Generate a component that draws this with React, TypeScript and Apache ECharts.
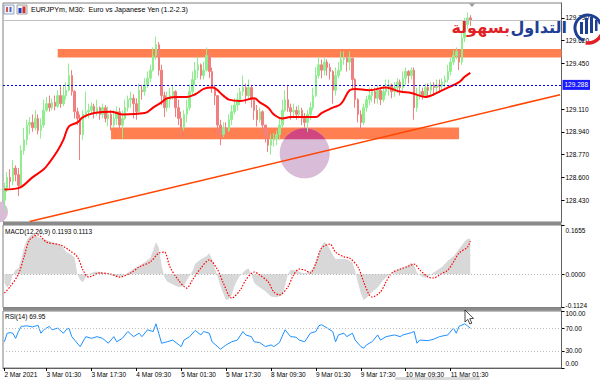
import { useEffect, useRef } from "react";
import * as echarts from "echarts";

const FONT = "'Liberation Sans', Arial, sans-serif";

const categoryCount = 199;
const firstOpen = 128.43;
const closes = [
  128.52, 128.60, 128.57, 128.67, 128.62, 128.54, 128.80, 128.88, 128.99, 129.01,
  128.97, 129.04, 128.95, 128.99, 129.10, 129.15, 129.12, 129.16, 129.13, 129.21,
  129.15, 129.21, 129.25, 129.36, 129.24, 129.09, 129.04, 128.92, 129.07, 129.09,
  129.10, 129.13, 129.09, 129.12, 129.07, 129.12, 129.04, 129.07, 128.99, 129.04,
  129.09, 128.99, 129.04, 129.12, 129.18, 129.19, 129.15, 129.09, 129.25, 129.24,
  129.29, 129.34, 129.40, 129.51, 129.59, 129.40, 129.21, 129.12, 129.18, 129.21,
  129.24, 129.12, 129.04, 128.97, 129.07, 129.12, 129.24, 129.33, 129.40, 129.44,
  129.36, 129.40, 129.51, 129.39, 129.27, 129.21, 128.99, 128.92, 128.97, 128.95,
  129.03, 129.09, 129.14, 129.18, 129.24, 129.27, 129.21, 129.27, 129.18, 129.10,
  129.03, 129.09, 128.99, 128.92, 128.84, 128.88, 128.89, 128.92, 128.99, 129.10,
  129.18, 129.12, 129.09, 129.10, 129.07, 129.10, 129.04, 129.01, 129.07, 129.12,
  129.21, 129.36, 129.44, 129.40, 129.46, 129.42, 129.39, 129.25, 129.36, 129.40,
  129.48, 129.49, 129.46, 129.49, 129.33, 129.18, 129.07, 129.01, 129.12, 129.18,
  129.21, 129.24, 129.19, 129.25, 129.18, 129.24, 129.27, 129.29, 129.24, 129.27,
  129.31, 129.27, 129.34, 129.39, 129.36, 129.40, 129.12, 129.21, 129.24, 129.21,
  129.27, 129.25, 129.29, 129.27, 129.29, 129.28, 129.31, 129.33, 129.39, 129.46,
  129.51, 129.54, 129.46, 129.64, 129.74, 129.79, 129.77,
];
const highs = [
  128.56, 128.64, 128.66, 128.73, 128.69, 128.67, 128.84, 128.97, 129.03, 129.05,
  129.07, 129.10, 129.07, 129.04, 129.18, 129.20, 129.21, 129.19, 129.21, 129.25,
  129.29, 129.28, 129.31, 129.45, 129.40, 129.25, 129.12, 129.07, 129.10, 129.24,
  129.15, 129.16, 129.15, 129.18, 129.13, 129.15, 129.14, 129.13, 129.10, 129.10,
  129.13, 129.12, 129.10, 129.18, 129.21, 129.24, 129.22, 129.19, 129.30, 129.29,
  129.34, 129.39, 129.44, 129.57, 129.65, 129.61, 129.44, 129.24, 129.24, 129.27,
  129.29, 129.25, 129.18, 129.09, 129.10, 129.18, 129.29, 129.39, 129.46, 129.50,
  129.45, 129.46, 129.57, 129.54, 129.42, 129.29, 129.21, 129.03, 129.01, 129.01,
  129.07, 129.14, 129.19, 129.23, 129.27, 129.36, 129.30, 129.33, 129.29, 129.18,
  129.14, 129.12, 129.10, 128.99, 128.94, 128.92, 128.93, 128.95, 129.04, 129.18,
  129.25, 129.29, 129.15, 129.15, 129.13, 129.14, 129.12, 129.08, 129.10, 129.16,
  129.27, 129.42, 129.50, 129.48, 129.49, 129.48, 129.45, 129.40, 129.42, 129.46,
  129.54, 129.54, 129.51, 129.54, 129.49, 129.34, 129.19, 129.10, 129.15, 129.21,
  129.27, 129.27, 129.27, 129.29, 129.27, 129.29, 129.33, 129.33, 129.30, 129.31,
  129.34, 129.33, 129.39, 129.42, 129.40, 129.42, 129.42, 129.27, 129.29, 129.27,
  129.30, 129.30, 129.31, 129.31, 129.33, 129.33, 129.34, 129.36, 129.44, 129.49,
  129.55, 129.57, 129.55, 129.69, 129.79, 129.83, 129.81,
];
const lows = [
  128.34, 128.49, 128.52, 128.54, 128.57, 128.46, 128.54, 128.77, 128.84, 128.92,
  128.94, 128.95, 128.92, 128.89, 128.97, 129.09, 129.09, 129.10, 129.10, 129.12,
  129.12, 129.13, 129.18, 129.24, 129.21, 129.04, 128.99, 128.73, 128.88, 129.04,
  129.04, 129.07, 129.04, 129.06, 129.03, 129.04, 129.01, 128.98, 128.95, 128.97,
  128.99, 128.95, 128.89, 129.03, 129.09, 129.12, 129.04, 129.03, 129.09, 129.18,
  129.21, 129.27, 129.31, 129.39, 129.48, 129.36, 129.14, 129.05, 129.09, 129.12,
  129.18, 129.05, 128.99, 128.89, 128.95, 129.01, 129.10, 129.21, 129.29, 129.34,
  129.33, 129.33, 129.39, 129.34, 129.23, 129.14, 128.92, 128.84, 128.90, 128.90,
  128.94, 128.99, 129.07, 129.10, 129.14, 129.21, 129.15, 129.18, 129.12, 129.03,
  128.98, 129.01, 128.94, 128.86, 128.79, 128.77, 128.83, 128.84, 128.88, 128.97,
  129.09, 129.09, 129.03, 129.04, 129.03, 129.04, 128.99, 128.97, 128.94, 129.03,
  129.10, 129.20, 129.34, 129.34, 129.36, 129.36, 129.33, 129.15, 129.21, 129.34,
  129.39, 129.44, 129.39, 129.40, 129.25, 129.12, 129.01, 128.95, 128.99, 129.09,
  129.14, 129.16, 129.15, 129.15, 129.14, 129.16, 129.21, 129.21, 129.19, 129.20,
  129.23, 129.21, 129.24, 129.29, 129.30, 129.33, 129.03, 129.09, 129.18, 129.18,
  129.19, 129.20, 129.21, 129.21, 129.23, 129.23, 129.25, 129.27, 129.31, 129.36,
  129.44, 129.48, 129.40, 129.44, 129.61, 129.71, 129.73,
];
const maPoints = [
  [0, 128.51], [5, 128.52], [10, 128.6], [14, 128.66], [16, 128.71], [19, 128.8], [21, 128.88],
  [23, 128.98], [26, 129.01], [28, 129.05], [32, 129.08], [38, 129.09], [42, 129.07], [50, 129.08],
  [53, 129.12], [56, 129.16], [58, 129.19], [62, 129.2], [65, 129.2], [68, 129.22], [71, 129.26],
  [74, 129.27], [78, 129.21], [80, 129.18], [84, 129.17], [89, 129.19], [91, 129.16], [94, 129.12],
  [96, 129.07], [99, 129.04], [102, 129.05], [111, 129.05], [113, 129.08], [117, 129.12],
  [120, 129.15], [123, 129.25], [125, 129.26], [130, 129.25], [136, 129.27], [138, 129.26],
  [141, 129.24], [145, 129.23], [150, 129.2], [152, 129.21], [155, 129.24], [158, 129.27],
  [162, 129.31], [164, 129.35], [166, 129.38],
];
const macdHist = [
  [0, -0.03], [1, -0.045], [2, -0.035], [3, 0], [4, 0.015], [5, 0.02], [6, 0.05], [7, 0.09],
  [8, 0.115], [9, 0.128], [10, 0.135], [11, 0.132], [12, 0.125], [14, 0.118], [16, 0.112],
  [18, 0.105], [20, 0.1], [22, 0.075], [24, 0.065], [25, 0.055], [26, 0], [27, -0.02],
  [28, -0.027], [29, -0.01], [30, 0], [32, 0.008], [34, 0.008], [36, 0.002], [38, -0.005],
  [40, -0.008], [42, -0.006], [44, 0.005], [46, 0.018], [48, 0.028], [50, 0.04], [52, 0.055],
  [53, 0.08], [54, 0.108], [55, 0.09], [56, 0.03], [57, -0.01], [58, -0.025], [60, -0.035],
  [62, -0.043], [64, -0.04], [65, -0.02], [66, -0.005], [67, 0.01], [68, 0.035], [70, 0.05],
  [72, 0.06], [73, 0.07], [74, 0.05], [75, 0.02], [76, -0.01], [77, -0.04], [78, -0.065],
  [79, -0.087], [80, -0.085], [81, -0.07], [82, -0.04], [83, -0.02], [84, -0.005], [86, 0.015],
  [87, 0.02], [88, 0], [89, -0.03], [91, -0.045], [93, -0.058], [95, -0.075], [97, -0.078],
  [99, -0.07], [100, -0.04], [101, 0], [102, 0.015], [104, 0.012], [106, 0.005], [108, 0.003],
  [110, 0.02], [112, 0.07], [113, 0.095], [114, 0.108], [115, 0.1], [116, 0.085], [117, 0.065],
  [118, 0.05], [120, 0.052], [122, 0.05], [124, 0.04], [125, 0.01], [126, -0.03], [127, -0.065],
  [128, -0.087], [129, -0.08], [131, -0.06], [133, -0.045], [135, -0.02], [137, -0.003],
  [139, 0.01], [141, 0.018], [143, 0.025], [145, 0.038], [146, 0.03], [147, 0.005], [149, -0.01],
  [150, -0.012], [152, 0], [154, 0.012], [156, 0.025], [158, 0.045], [160, 0.06], [162, 0.085],
  [164, 0.11], [165, 0.118], [166, 0.1193],
];
const macdSignal = [
  [0, -0.064], [2, -0.043], [5, 0], [7, 0.058], [9, 0.115], [12, 0.132], [15, 0.108], [20, 0.098],
  [23, 0.081], [26, 0.058], [28, 0.014], [30, -0.01], [34, 0.004], [38, 0], [41, -0.01], [45, 0.004],
  [48, 0.024], [52, 0.041], [55, 0.071], [57, 0.074], [59, 0.024], [62, -0.02], [65, -0.047],
  [67, -0.02], [70, 0.02], [73, 0.048], [76, 0.014], [78, -0.03], [81, -0.081], [84, -0.054],
  [86, -0.02], [89, 0.007], [91, -0.003], [94, -0.026], [96, -0.06], [98, -0.07], [101, -0.043],
  [103, -0.003], [105, 0.017], [107, 0.014], [109, 0.004], [111, 0.037], [113, 0.088], [116, 0.101],
  [118, 0.074], [121, 0.058], [123, 0.054], [126, 0.024], [128, -0.026], [130, -0.07], [131, -0.077],
  [134, -0.06], [136, -0.026], [138, 0.004], [141, 0.017], [144, 0.027], [146, 0.034], [148, 0.014],
  [151, -0.01], [153, -0.013], [155, -0.003], [158, 0.014], [160, 0.041], [162, 0.071], [165, 0.091],
  [166, 0.1113],
];
const rsiPoints = [
  [0, 46], [1, 61], [2, 62], [3, 61], [4, 52], [5, 64], [6, 73], [8, 74], [10, 72], [12, 75], [13, 61],
  [14, 67], [16, 73], [17, 67], [19, 70], [21, 61], [22, 67], [23, 70], [24, 55], [27, 37.5], [29, 55],
  [31, 52], [33, 55], [35, 52], [37, 43.5], [39, 55], [40, 46], [42, 52], [44, 64], [46, 55], [48, 61],
  [49, 55], [51, 67], [53, 64], [54, 77.5], [55, 61], [56, 43.5], [58, 46], [60, 49], [63, 37.5],
  [64, 49], [66, 55], [68, 66], [70, 58], [71, 64], [73, 61], [74, 46], [77, 33], [79, 40.5], [81, 46],
  [83, 49], [85, 64], [86, 58], [88, 55], [89, 46], [91, 44.6], [93, 37.5], [95, 40.5], [96, 37.5],
  [98, 44.6], [100, 67], [102, 55], [104, 54], [105, 49], [107, 46], [109, 61], [111, 64], [112, 74],
  [113, 76], [115, 70], [117, 64], [118, 46], [119, 58], [121, 61], [122, 55], [124, 61], [125, 49],
  [127, 37.5], [128, 34.7], [129, 40.5], [131, 46], [133, 58], [134, 49], [136, 55], [139, 58],
  [141, 55], [142, 58], [145, 62], [146, 64], [147, 43.5], [148, 49], [151, 48], [153, 50.6],
  [155, 55], [158, 58], [160, 70], [161, 61], [162, 73], [164, 77.5], [165, 74], [166, 69.95],
];
const tickIndex = [0, 15, 31, 47, 63, 79, 95, 111, 127, 143, 159];
const tickText = [
  "2 Mar 2021", "3 Mar 01:30", "3 Mar 17:30", "4 Mar 09:30", "5 Mar 01:30", "5 Mar 17:30",
  "8 Mar 09:30", "9 Mar 01:30", "9 Mar 17:30", "10 Mar 09:30", "11 Mar 01:30",
];
const priceTicks = [128.43, 128.6, 128.77, 128.94, 129.11, 129.45, 129.62, 129.79];
const macdTicks = [0.1655, 0, -0.1124];
const rsiTicks = [100, 70, 30, 0];
const rsiLevels = [70, 30];
const bidPrice = 129.767;
const hLinePrice = 129.288;
const upperZone = { from: 19, to: 198, top: 129.558, bottom: 129.494 };
const lowerZone = { from: 38, to: 162, top: 128.973, bottom: 128.884 };
const trendStart = ["9", 128.27];
const trendEnd = ["198", 129.217];
const circleCenter = [107, 128.78];
const title = "EURJPYm, M30:  Euro vs Japanese Yen (1.2-2.3)";
const macdTitle = "MACD(12,26,9) 0.1193 0.1113";
const rsiTitle = "RSI(14) 69.95";

const categories = Array.from({ length: categoryCount }, (_, i) => String(i));
const candles = closes.map((c, i) => [i === 0 ? firstOpen : closes[i - 1], c, lows[i], highs[i]]);

const GL = 3;
const GR = 38.5;

function hiddenX(gridIndex: number) {
  return {
    type: "category", gridIndex, data: categories, boundaryGap: true,
    axisLine: { show: false }, axisTick: { show: false }, axisLabel: { show: false }, splitLine: { show: false },
  };
}

const lbl = (extra: any = {}) => ({ fontSize: 6.5, color: "#000", fontFamily: FONT, ...extra });

export default function App() {
  const ref = useRef<HTMLDivElement>(null);
  useEffect(() => {
    document.body.style.margin = "0";
    const chart = echarts.init(ref.current!, null, { renderer: "svg" });
    const option: any = {
      animation: false,
      textStyle: { fontFamily: FONT },
      grid: [
        { left: GL, right: GR, top: 3, height: 219, show: true, borderColor: "#808080", borderWidth: 1 },
        { left: GL, right: GR, top: 225, height: 82.5, show: true, borderColor: "#808080", borderWidth: 1 },
        { left: GL, right: GR, top: 311, height: 57, show: true, borderColor: "#808080", borderWidth: 1 },
      ],
      xAxis: [
        hiddenX(0),
        hiddenX(1),
        {
          type: "category", gridIndex: 2, data: categories, boundaryGap: true,
          axisLine: { lineStyle: { color: "#606060" } },
          axisTick: { show: true, alignWithLabel: true, length: 3, interval: (i: number) => tickIndex.includes(i), lineStyle: { color: "#000" } },
          axisLabel: {
            ...lbl(), align: "left", margin: 3,
            interval: (i: number) => tickIndex.includes(i),
            formatter: (_v: string, i: number) => tickText[tickIndex.indexOf(i)] ?? "",
          },
          splitLine: { show: false },
        },
      ],
      yAxis: [
        {
          type: "value", gridIndex: 0, position: "right", min: 128.267, max: 129.901, scale: true,
          axisLine: { show: true, lineStyle: { color: "#606060" } },
          axisTick: { show: true, length: 3, customValues: priceTicks, lineStyle: { color: "#000" } },
          axisLabel: { ...lbl(), margin: 4, customValues: priceTicks, formatter: (v: number) => v.toFixed(3) },
          splitLine: { show: false },
        },
        {
          type: "value", gridIndex: 1, position: "right", min: -0.1124, max: 0.1655,
          axisLine: { show: true, lineStyle: { color: "#606060" } },
          axisTick: { show: true, length: 3, customValues: macdTicks, lineStyle: { color: "#000" } },
          axisLabel: {
            ...lbl(), margin: 4, customValues: macdTicks,
            formatter: (v: number) => (v > 0.1 ? `{t|${v.toFixed(4)}}` : v < -0.1 ? `{b|${v.toFixed(4)}}` : `{m|${v.toFixed(4)}}`),
            rich: { t: lbl({ padding: [10, 0, 0, 0] }), b: lbl({ padding: [0, 0, 5, 0] }), m: lbl() },
          },
          splitLine: { show: false },
        },
        {
          type: "value", gridIndex: 2, position: "right", min: 0, max: 100,
          axisLine: { show: true, lineStyle: { color: "#606060" } },
          axisTick: { show: true, length: 3, customValues: rsiTicks, lineStyle: { color: "#000" } },
          axisLabel: {
            ...lbl(), margin: 4, customValues: rsiTicks,
            formatter: (v: number) => (v === 100 ? `{t|${v.toFixed(2)}}` : v === 0 ? `{b|${v.toFixed(2)}}` : `{m|${v.toFixed(2)}}`),
            rich: { t: lbl({ padding: [5, 0, 0, 0] }), b: lbl({ padding: [0, 0, 9, 0] }), m: lbl() },
          },
          splitLine: { show: false },
        },
      ],
      series: [
        {
          name: "levels", type: "line", xAxisIndex: 0, yAxisIndex: 0, data: closes, z: 0, silent: true,
          symbol: "none", lineStyle: { opacity: 0 },
          markLine: {
            silent: true, symbol: ["none", "none"],
            data: [
              { yAxis: bidPrice, lineStyle: { color: "#c0c0c0", type: "solid", width: 1 }, label: { show: false } },
              {
                yAxis: hLinePrice, lineStyle: { color: "#0000ff", type: [2, 2], width: 1 },
                label: {
                  show: true, position: "end", distance: 1, formatter: hLinePrice.toFixed(3),
                  backgroundColor: "#1a1aff", color: "#fff", fontSize: 6.5, fontFamily: FONT, padding: [2, 2, 1, 2],
                },
              },
            ],
          },
        },
        {
          name: "EURJPY", type: "candlestick", xAxisIndex: 0, yAxisIndex: 0, data: candles, z: 3,
          barWidth: 2,
          itemStyle: { color: "#90ee90", color0: "#f08080", borderColor: "#90ee90", borderColor0: "#f08080", borderWidth: 1 },
        },
        {
          name: "MA", type: "line", xAxisIndex: 0, yAxisIndex: 0, data: maPoints, z: 4, symbol: "none", smooth: 0.4,
          lineStyle: { color: "#ff0000", width: 2 },
          markLine: {
            silent: true, symbol: ["none", "none"], label: { show: false },
            lineStyle: { color: "#ff4500", width: 1.5, type: "solid" },
            data: [[{ coord: trendStart }, { coord: trendEnd }]],
          },
        },
        {
          name: "MACD", type: "line", xAxisIndex: 1, yAxisIndex: 1, data: macdHist, symbol: "none",
          lineStyle: { width: 0, color: "#d3d3d3" }, areaStyle: { color: "#d8d8d8", opacity: 1 },
          markLine: {
            silent: true, symbol: ["none", "none"], label: { show: false },
            lineStyle: { color: "#b8b8b8", type: [1, 2], width: 1 }, data: [{ yAxis: 0 }],
          },
        },
        {
          name: "Signal", type: "line", xAxisIndex: 1, yAxisIndex: 1, data: macdSignal, symbol: "none", smooth: 0.3,
          lineStyle: { color: "#ff0000", width: 1.2, type: [1.5, 1.5] },
        },
        {
          name: "RSI", type: "line", xAxisIndex: 2, yAxisIndex: 2, data: rsiPoints, symbol: "none",
          lineStyle: { color: "#1e90ff", width: 1 },
          markLine: {
            silent: true, symbol: ["none", "none"], label: { show: false },
            lineStyle: { color: "#c0c0c0", type: [1, 2], width: 1 },
            data: rsiLevels.map((v) => ({ yAxis: v })),
          },
        },
      ],
    };
    chart.setOption(option);

    const px = (p: any[]) => chart.convertToPixel({ gridIndex: 0 }, p) as number[];
    const plotW = 600 - GL - GR;
    const band = plotW / categoryCount;
    const zoneRect = (zn: any, toEdge: boolean) => {
      const a = px([zn.from, zn.top]);
      const b = px([zn.to, zn.bottom]);
      const x2 = toEdge ? GL + plotW : b[0];
      return { type: "rect", z: 1, silent: true, shape: { x: a[0], y: a[1], width: x2 - a[0], height: b[1] - a[1] }, style: { fill: "#ff7f50" } };
    };
    const [cx, cy] = px(circleCenter);
    const capY = px([0, lowerZone.bottom])[1];
    const r = 25;
    const capPts: number[][] = [];
    const aMax = Math.acos(Math.min(1, Math.max(-1, (cy - capY) / r)));
    for (let k = 0; k <= 24; k++) {
      const a = -aMax + (2 * aMax * k) / 24;
      capPts.push([cx + r * Math.sin(a), cy - r * Math.cos(a)]);
    }
    void band;
    const txt = (text: string, x: number, y: number, extra: any = {}) => ({
      type: "text", z: 20, silent: true,
      style: { text, x, y, fill: "#000", fontSize: 7.1, fontFamily: FONT, align: "left", verticalAlign: "middle", ...extra },
    });
    const arab = "'DejaVu Sans', sans-serif";
    chart.setOption({
      graphic: [
        zoneRect(upperZone, true),
        zoneRect(lowerZone, false),
        { type: "circle", z: 2, silent: true, shape: { cx, cy, r }, style: { fill: "#d8bcd8" } },
        { type: "polygon", z: 2, silent: true, shape: { points: capPts }, style: { fill: "#d2467f" } },
        { type: "circle", z: 2, silent: true, shape: { cx: -3, cy: 212, r: 11 }, style: { fill: "#d8bcd8" } },
        { type: "rect", z: 20, silent: true, shape: { x: GL, y: 222, width: plotW, height: 3 }, style: { fill: "#8a8a8a" } },
        { type: "rect", z: 20, silent: true, shape: { x: GL, y: 307.8, width: plotW, height: 3 }, style: { fill: "#8a8a8a" } },
        txt(title, 31, 10),
        txt(macdTitle, 5, 231.5, { fontSize: 6.5 }),
        txt(rsiTitle, 5, 316.5, { fontSize: 6.5 }),
        { type: "rect", z: 20, silent: true, shape: { x: 4, y: 5, width: 10, height: 9 }, style: { fill: "#eef2fa", stroke: "#7a8fb8", lineWidth: 0.8 } },
        { type: "rect", z: 20, silent: true, shape: { x: 6, y: 7, width: 2, height: 5 }, style: { fill: "#e05050" } },
        { type: "rect", z: 20, silent: true, shape: { x: 9.5, y: 7, width: 2, height: 5 }, style: { fill: "#5070c0" } },
        { type: "rect", z: 20, silent: true, shape: { x: 17, y: 5, width: 10, height: 9 }, style: { fill: "#f4f4f4", stroke: "#8a8a8a", lineWidth: 0.8 } },
        { type: "rect", z: 20, silent: true, shape: { x: 18.5, y: 8, width: 3, height: 5 }, style: { fill: "#2040c0" } },
        { type: "rect", z: 20, silent: true, shape: { x: 22.5, y: 6.5, width: 3, height: 6.5 }, style: { fill: "#d03030" } },
        { type: "polygon", z: 20, silent: true, shape: { points: [[469, 3.5], [475, 3.5], [472, 7]] }, style: { fill: "#9a9a9a" } },
        txt("التداول", 567, 27, { align: "right", fill: "#1d3f94", fontSize: 16, fontWeight: "bold", fontFamily: arab }),
        txt("بسهولة", 510, 27, { align: "right", fill: "#e11f26", fontSize: 16, fontWeight: "bold", fontFamily: arab }),
        { type: "arc", z: 21, silent: true, shape: { cx: 588, cy: 28, r: 13, startAngle: Math.PI * 0.6, endAngle: Math.PI * 1.9 }, style: { stroke: "#1d3f94", lineWidth: 3, fill: "none" } },
        { type: "rect", z: 21, silent: true, shape: { x: 580, y: 22, width: 3, height: 12 }, style: { fill: "#1d3f94" } },
        { type: "rect", z: 21, silent: true, shape: { x: 585, y: 18, width: 3, height: 16 }, style: { fill: "#1d3f94" } },
        { type: "rect", z: 21, silent: true, shape: { x: 590, y: 17, width: 3, height: 16 }, style: { fill: "#1d3f94" } },
        { type: "rect", z: 21, silent: true, shape: { x: 595, y: 20, width: 2.5, height: 11 }, style: { fill: "#1d3f94" } },
        { type: "arc", z: 21, silent: true, shape: { cx: 588, cy: 28, r: 15, startAngle: -Math.PI * 0.05, endAngle: Math.PI * 0.55 }, style: { stroke: "#e11f26", lineWidth: 3.5, fill: "none" } },
        { type: "polygon", z: 25, silent: true, shape: { points: [[465, 310], [465, 322], [467.8, 319.4], [469.8, 324], [471.8, 323.2], [469.8, 318.6], [473.5, 318.4]] }, style: { fill: "#fff", stroke: "#000", lineWidth: 0.7 } },
        { type: "rect", z: 20, silent: true, shape: { x: 395, y: 377, width: 85, height: 3, r: 1 }, style: { fill: "#d9d9d9" } },
      ],
    });
    return () => chart.dispose();
  }, []);
  return <div ref={ref} style={{ width: 600, height: 380 }} />;
}
